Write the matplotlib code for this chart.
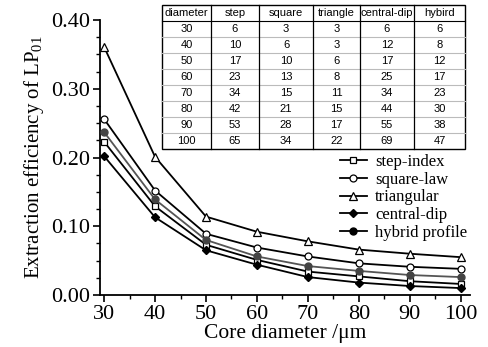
import matplotlib.pyplot as plt
from matplotlib.ticker import MultipleLocator
from matplotlib.lines import Line2D

# data
diameter = [30, 40, 50, 60, 70, 80, 90, 100]
step_index = [0.223, 0.129, 0.073, 0.051, 0.034, 0.027, 0.020, 0.016]
square_law = [0.256, 0.152, 0.089, 0.069, 0.056, 0.046, 0.041, 0.038]
triangular = [0.361, 0.201, 0.114, 0.092, 0.078, 0.066, 0.060, 0.055]
central_dip = [0.202, 0.113, 0.065, 0.044, 0.026, 0.018, 0.013, 0.010]
hybrid = [0.237, 0.139, 0.080, 0.056, 0.042, 0.035, 0.029, 0.026]

# table contents
tab_header = ['diameter', 'step', 'square', 'triangle', 'central-dip', 'hybird']
tab_step = [6, 10, 17, 23, 34, 42, 53, 65]
tab_square = [3, 6, 10, 13, 15, 21, 28, 34]
tab_triangle = [3, 3, 6, 8, 11, 15, 17, 22]
tab_central = [6, 12, 17, 25, 34, 44, 55, 69]
tab_hybird = [6, 8, 12, 17, 23, 30, 38, 47]

serif = 'Liberation Serif'
plt.rcParams['font.family'] = serif
plt.rcParams['mathtext.fontset'] = 'custom'
plt.rcParams['mathtext.rm'] = serif
plt.rcParams['mathtext.it'] = serif + ':italic'

fig = plt.figure(figsize=(4.88, 3.47), dpi=100)
ax = fig.add_axes([0.205, 0.150, 0.758, 0.792])

lw = 1.3
ms = 5
ax.plot(diameter, step_index, color='black', lw=lw, marker='s', ms=ms - 0.5,
        mfc='white', mec='black', mew=0.9, label='step-index', zorder=3)
ax.plot(diameter, square_law, color='black', lw=lw, marker='o', ms=ms,
        mfc='white', mec='black', mew=0.9, label='square-law', zorder=3)
ax.plot(diameter, triangular, color='black', lw=lw, marker='^', ms=ms + 0.5,
        mfc='white', mec='black', mew=0.9, label='triangular', zorder=3)
ax.plot(diameter, central_dip, color='black', lw=lw, marker='D', ms=ms - 1,
        mfc='black', mec='black', label='central-dip', zorder=3)
ax.plot(diameter, hybrid, color='#555555', lw=lw, marker='o', ms=ms,
        mfc='#444444', mec='#444444', zorder=3)

handles, labels = ax.get_legend_handles_labels()
handles.append(Line2D([], [], color='black', lw=lw, marker='o', ms=ms,
                      mfc='black', mec='black'))
labels.append('hybrid profile')
ax.legend(handles, labels, loc='upper left', bbox_to_anchor=(0.697, 0.556),
          bbox_transform=fig.transFigure, frameon=False, fontsize=12,
          handlelength=1.6, handletextpad=0.5, labelspacing=0.1,
          borderaxespad=0, borderpad=0)

ax.set_xlim(29.2, 101.8)
ax.set_ylim(0, 0.40)
ax.xaxis.set_major_locator(MultipleLocator(10))
ax.xaxis.set_minor_locator(MultipleLocator(5))
ax.yaxis.set_major_locator(MultipleLocator(0.1))
ax.yaxis.set_minor_locator(MultipleLocator(0.025))
ax.yaxis.set_major_formatter(plt.FuncFormatter(lambda v, p: '%.2f' % v))
ax.spines['top'].set_visible(False)
ax.spines['right'].set_visible(False)
for s in ['left', 'bottom']:
    ax.spines[s].set_linewidth(1.3)
ax.tick_params(which='major', direction='out', length=5, width=1.2,
               labelsize=16, pad=2)
ax.tick_params(which='minor', direction='out', length=3, width=1.0)
ax.set_xlabel('Core diameter /\u03bcm', fontsize=15.5, labelpad=0)
ax.set_ylabel('Extraction efficiency of LP$_{01}$', fontsize=15, labelpad=4)

# table in figure coordinates
col_px = [162, 211, 259, 313, 360, 414, 465]
top_px, row_h = 5, 16
W, H = 488.0, 347.0
rows = [tab_header] + [[d, a, b, c, e, f] for d, a, b, c, e, f in
                       zip(diameter, tab_step, tab_square, tab_triangle,
                           tab_central, tab_hybird)]
bot_px = top_px + row_h * len(rows)
fig.patches.append(plt.Rectangle((col_px[0] / W, 1 - bot_px / H),
                                 (col_px[-1] - col_px[0]) / W,
                                 (bot_px - top_px) / H,
                                 transform=fig.transFigure, fc='white',
                                 ec='black', lw=1.0, zorder=5))
for i, row in enumerate(rows):
    yc = 1 - (top_px + row_h * (i + 0.5)) / H
    for j, val in enumerate(row):
        xc = (col_px[j] + col_px[j + 1]) / 2 / W
        fig.text(xc, yc, str(val), ha='center', va='center', fontsize=8,
                 family='Liberation Sans', zorder=7)
    if i > 0:
        yl = 1 - (top_px + row_h * i) / H
        fig.add_artist(Line2D([col_px[0] / W, col_px[-1] / W], [yl, yl],
                              transform=fig.transFigure,
                              color='black' if i == 1 else '#bbbbbb',
                              lw=0.8, zorder=6))
for x in col_px[1:-1]:
    fig.add_artist(Line2D([x / W, x / W], [1 - top_px / H, 1 - bot_px / H],
                          transform=fig.transFigure, color='black', lw=0.9,
                          zorder=6))

fig.savefig('out.png', dpi=100)
